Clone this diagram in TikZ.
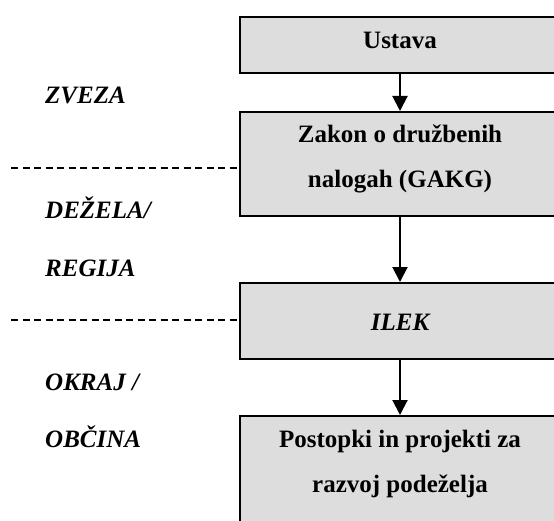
\documentclass[tikz,border=0pt]{standalone}
\usepackage{fontspec}
\setmainfont{Liberation Serif}
\usetikzlibrary{arrows.meta}
\definecolor{boxgray}{RGB}{221,221,221}
\tikzset{
  levelbox/.style={draw=black, line width=2bp, fill=boxgray},
  boxtext/.style={anchor=base, font=\fontsize{25bp}{30bp}\selectfont\bfseries, inner sep=0pt},
  leveltext/.style={anchor=base west, font=\fontsize{25bp}{30bp}\selectfont\bfseries\itshape, inner sep=0pt},
  flow/.style={line width=2bp, -{Triangle[length=15bp, width=15bp]}},
  divider/.style={line width=1.2bp, dash pattern=on 7bp off 4.5bp}
}
\begin{document}
\begin{tikzpicture}[x=1bp, y=-1bp]
  \useasboundingbox (0,0) rectangle (554,521);
  \clip (0,0) rectangle (554,521);

  % level dividers
  \coordinate (d1) at (11,168);
  \coordinate (d2) at (11,320);
  \draw[divider] (d1) -- (239,168);
  \draw[divider] (d2) -- (239,320);

  % boxes (they run past the right and bottom edges)
  \node[levelbox, minimum width=322bp, minimum height=56bp, anchor=north west, inner sep=0pt] (ustava) at (239,16) {};
  \node[levelbox, minimum width=322bp, minimum height=104bp, anchor=north west, inner sep=0pt] (zakon) at (239,111) {};
  \node[levelbox, minimum width=322bp, minimum height=76bp, anchor=north west, inner sep=0pt] (ilek) at (239,282) {};
  \node[levelbox, minimum width=322bp, minimum height=130bp, anchor=north west, inner sep=0pt] (postopki) at (239,415) {};

  % box texts
  \node[boxtext] (t1) at (400,49) {Ustava};
  \node[boxtext] (t2a) at (400,143) {Zakon o družbenih};
  \node[boxtext] (t2b) at (400,188) {nalogah (GAKG)};
  \node[boxtext, font=\fontsize{25bp}{30bp}\selectfont\bfseries\itshape] (t3) at (400,330) {ILEK};
  \node[boxtext] (t4a) at (400,447) {Postopki in projekti za};
  \node[boxtext] (t4b) at (400,492) {razvoj podeželja};

  % level labels
  \node[leveltext] (l1) at (45,104) {ZVEZA};
  \node[leveltext] (l2) at (45,219) {DEŽELA/};
  \node[leveltext] (l3) at (45,276) {REGIJA};
  \node[leveltext] (l4) at (45,390) {OKRAJ /};
  \node[leveltext] (l5) at (45,447) {OBČINA};

  % arrows
  \draw[flow] (ustava.south -| t1) -- (zakon.north -| t1);
  \draw[flow] (zakon.south -| t1) -- (ilek.north -| t1);
  \draw[flow] (ilek.south -| t1) -- (postopki.north -| t1);
\end{tikzpicture}
\end{document}
